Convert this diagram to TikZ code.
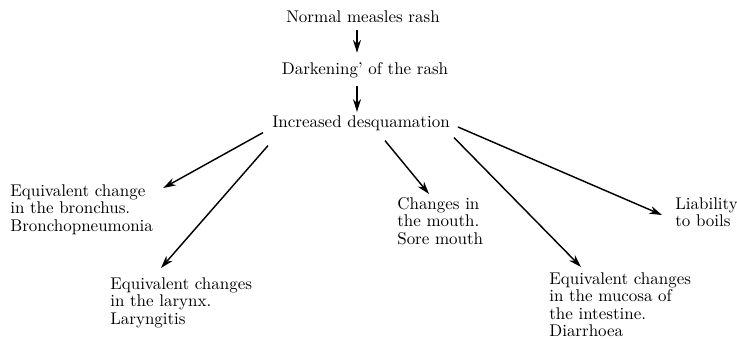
\documentclass[tikz,border=0pt]{standalone}
\usepackage{amssymb,amsmath}
\usepackage{xcolor}
\usetikzlibrary{arrows.meta}

\begin{document}
\begin{tikzpicture}[x=0.625pt,y=-0.625pt,
        font={\fontsize{10.6}{11}\selectfont},
        arr/.style={line width=0.9pt,-{Stealth[length=8pt,width=5pt]}},
        lbl/.style={inner sep=0pt,anchor=base},
        blk/.style={inner sep=0pt,anchor=north west,align=left}]
            \useasboundingbox (0,0) rectangle (737,338);

            % chain at the top
            \node[lbl] (normal) at (363,23) {Normal measles rash};
            \node[lbl] (dark) at (365,75) {Darkening' of the rash};
            \node[lbl] (desq) at (361,127) {Increased desquamation};

            % consequences
            \node[blk] (bronch) at (10,184) {Equivalent change\\in the bronchus.\\Bronchopneumonia};
            \node[blk] (larynx) at (110,277) {Equivalent changes\\in the larynx.\\Laryngitis};
            \node[blk] (mouth) at (397,197) {Changes in\\the mouth.\\Sore mouth};
            \node[blk] (intest) at (549,272) {Equivalent changes\\in the mucosa of\\the intestine.\\Diarrhoea};
            \node[blk] (boils) at (675,197) {Liability\\to boils};

            \draw[arr] ([shift={(-6,6)}]normal.south) -- ([shift={(-8,-10)}]dark.north);
            \draw[arr] ([shift={(-8,7)}]dark.south) -- ([shift={(-4,-3)}]desq.north);

            \draw[arr] ([shift={(-9,2)}]desq.south west) -- ([shift={(10,4)}]bronch.north east);
            \draw[arr] ([shift={(-4,15)}]desq.south west) -- ([shift={(51,-9)}]larynx.north west);
            \draw[arr] ([shift={(24,10)}]desq.south) -- ([shift={(32,-3)}]mouth.north west);
            \draw[arr] ([shift={(4,7)}]desq.south east) -- ([shift={(32,-5)}]intest.north west);
            \draw[arr] ([shift={(8,0)}]desq.base east) -- ([shift={(-13,18)}]boils.north west);
        \end{tikzpicture}
\end{document}
